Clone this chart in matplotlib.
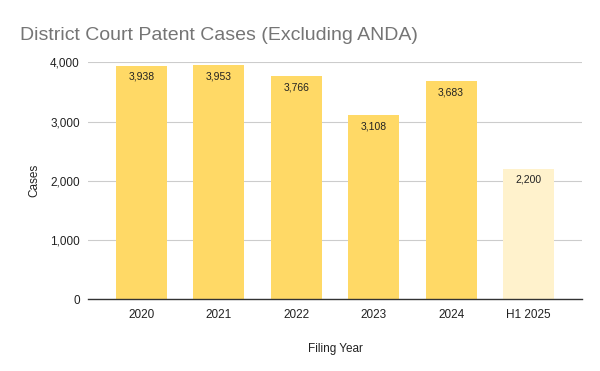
import matplotlib.pyplot as plt

years = ["2020", "2021", "2022", "2023", "2024", "H1 2025"]
cases = [3938, 3953, 3766, 3108, 3683, 2200]
bar_colors = ["#ffd966"] * 5 + ["#fff2cc"]

plt.rcParams['font.family'] = ['Liberation Sans', 'DejaVu Sans']

fig = plt.figure(figsize=(6, 3.71), dpi=100)
ax = fig.add_axes([88 / 600, 1 - 299.3 / 371, 494 / 600, 237 / 371])

xs = range(len(years))
ax.bar(xs, cases, width=0.66, color=bar_colors, zorder=2)
for x, v in zip(xs, cases):
    ax.text(x, v - 100, f"{v:,}", ha="center", va="top", fontsize=7.5, color="#222222", zorder=3)

ax.set_xlim(-0.69, 5.69)
ax.set_ylim(0, 4000)
ax.set_yticks([0, 1000, 2000, 3000, 4000])
ax.set_yticklabels([f"{t:,}" for t in [0, 1000, 2000, 3000, 4000]])
ax.set_xticks(list(xs))
ax.set_xticklabels(years)
ax.tick_params(axis="both", length=0, labelsize=8.5, colors="#222222", pad=6)
ax.tick_params(axis="x", pad=7)
ax.grid(axis="y", color="#cccccc", linewidth=0.8, zorder=0)
for s in ["top", "right", "left"]:
    ax.spines[s].set_visible(False)
ax.spines["bottom"].set_color("#333333")
ax.spines["bottom"].set_linewidth(1)
ax.spines["bottom"].set_zorder(4)

ax.set_xlabel("Filing Year", fontsize=8.5, color="#222222", labelpad=16)
ax.set_ylabel("Cases", fontsize=8.5, color="#222222", labelpad=7)

fig.text(20 / 600, 1 - 40 / 371, "District Court Patent Cases (Excluding ANDA)",
         fontsize=14.0, color="#757575", ha="left", va="baseline")

fig.savefig("out.png", dpi=100)
